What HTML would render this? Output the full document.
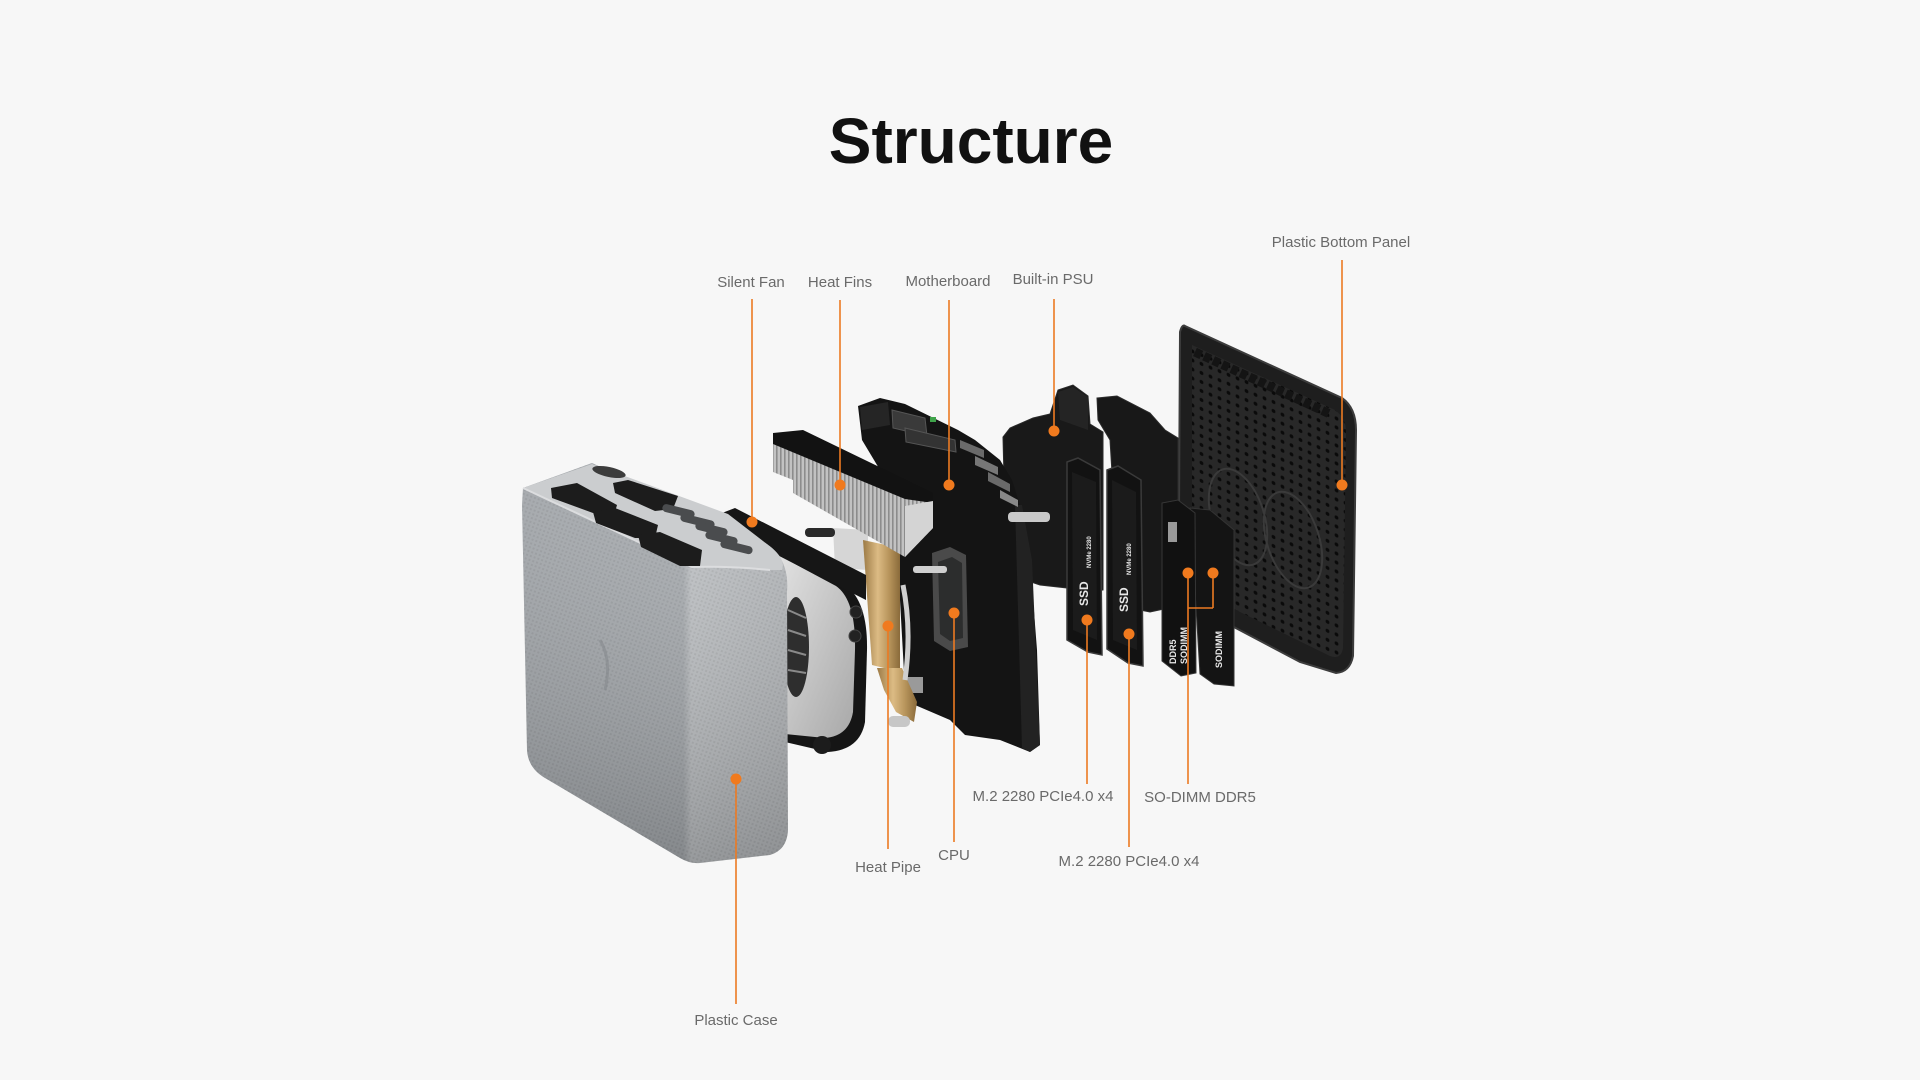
<!DOCTYPE html>
<html><head><meta charset="utf-8"><style>
html,body{margin:0;padding:0;background:#f7f7f7;}
svg{display:block}
.lbl{font-family:"Liberation Sans",sans-serif;font-size:15px;fill:#6a6a6a;text-anchor:middle}
.tiny{font-family:"Liberation Sans",sans-serif;font-weight:bold;fill:#e8e8e8}
</style></head><body>
<svg width="1920" height="1080" viewBox="0 0 1920 1080" xmlns="http://www.w3.org/2000/svg">
<defs>
 <pattern id="dots" width="9" height="9" patternUnits="userSpaceOnUse" patternTransform="skewY(22)"><rect width="9" height="9" fill="#282828"/><circle cx="4.5" cy="4.5" r="1.9" fill="#0a0a0a"/></pattern>
 <pattern id="fins" width="4" height="10" patternUnits="userSpaceOnUse"><rect width="4" height="10" fill="#c2c2c2"/><rect width="1.6" height="10" fill="#8c8c8c"/></pattern>
 <pattern id="tex" width="4" height="4" patternUnits="userSpaceOnUse" patternTransform="rotate(20)"><rect width="4" height="4" fill="none"/><rect width="2" height="2" fill="#000" opacity="0.07"/></pattern>
 <linearGradient id="front" gradientUnits="userSpaceOnUse" x1="523" y1="0" x2="790" y2="0">
  <stop offset="0" stop-color="#a0a4a8"/><stop offset="0.6" stop-color="#a6aaae"/><stop offset="0.63" stop-color="#bdc0c3"/><stop offset="1" stop-color="#b1b4b7"/>
 </linearGradient>
 <linearGradient id="shade" gradientUnits="userSpaceOnUse" x1="0" y1="500" x2="0" y2="865">
  <stop offset="0" stop-color="#fff" stop-opacity="0.08"/><stop offset="1" stop-color="#000" stop-opacity="0.2"/>
 </linearGradient>
 <linearGradient id="gold" x1="0" y1="0" x2="1" y2="0">
  <stop offset="0" stop-color="#9c7a45"/><stop offset="0.4" stop-color="#dcbb84"/><stop offset="0.7" stop-color="#b8955c"/><stop offset="1" stop-color="#8a6a3a"/>
 </linearGradient>
 <linearGradient id="fanG" x1="0" y1="0" x2="1" y2="1">
  <stop offset="0" stop-color="#e2e2e2"/><stop offset="1" stop-color="#a8a8a8"/>
 </linearGradient>
</defs>

<rect width="1920" height="1080" fill="#f7f7f7"/>

<text x="971" y="163" text-anchor="middle" font-family="'Liberation Sans',sans-serif" font-weight="bold" font-size="64" fill="#111">Structure</text>

<!-- Bottom panel -->
<path d="M1185,326 Q1182,324 1180,332 L1179,515 L1232,626 L1300,662 L1336,673 Q1350,672 1353,656 L1356,430 Q1356,408 1342,398 Z" fill="#1e1e1e" stroke="#3c3c3c" stroke-width="2"/>
<path d="M1192,345 L1335,410 Q1346,418 1346,432 L1343,648 Q1341,660 1330,656 L1240,612 L1192,585 Z" fill="url(#dots)"/>
<path d="M1195,352 L1330,414" stroke="#141414" stroke-width="9" stroke-dasharray="7 3"/>
<ellipse cx="1238" cy="517" rx="26" ry="50" fill="none" stroke="#3a3a3a" stroke-width="2" transform="rotate(-18 1238 517)"/>
<ellipse cx="1293" cy="540" rx="26" ry="50" fill="none" stroke="#3a3a3a" stroke-width="2" transform="rotate(-18 1293 540)"/>

<!-- Plate 2 -->
<path d="M1097,398 L1117,396 L1150,413 L1165,430 L1178,438 L1178,606 L1150,612 L1120,606 L1110,440 L1098,420 Z" fill="#181818" stroke="#2c2c2c"/>

<!-- RAM 2 -->
<path d="M1190,508 L1210,510 L1234,530 L1234,686 L1214,684 L1200,674 Z" fill="#141414" stroke="#333"/>
<text class="tiny" font-size="9" transform="translate(1222,668) rotate(-90)">SODIMM</text>
<!-- RAM 1 -->
<path d="M1162,503 L1178,500 L1195,513 L1196,673 L1181,676 L1162,661 Z" fill="#111" stroke="#363636"/>
<text class="tiny" font-size="9" transform="translate(1176,664) rotate(-90)">DDR5</text>
<text class="tiny" font-size="9" transform="translate(1187,664) rotate(-90)">SODIMM</text>
<rect x="1168" y="522" width="9" height="20" fill="#bdbdbd" opacity="0.8"/>

<!-- SSD 2 -->
<path d="M1107,470 L1118,466 L1141,480 L1143,666 L1128,663 L1107,649 Z" fill="#121212" stroke="#3a3a3a" stroke-width="1.5"/>
<path d="M1112,480 L1136,492 L1137,650 L1113,640 Z" fill="#1b1b1b"/>
<text class="tiny" font-size="12" transform="translate(1128,612) rotate(-90)">SSD</text>
<text class="tiny" font-size="6" transform="translate(1131,575) rotate(-90)">NVMe 2280</text>

<!-- PSU -->
<path d="M1003,437 L1010,428 L1033,418 L1050,414 L1058,390 L1073,385 L1088,396 L1090,424 L1103,432 L1103,590 L1090,592 L1067,588 L1040,585 L1010,575 L1005,520 Z" fill="#191919" stroke="#2a2a2a"/>
<path d="M1058,392 L1073,387 L1088,397 L1088,430 L1060,420 Z" fill="#242424"/>

<!-- SSD 1 -->
<path d="M1067,462 L1078,458 L1100,470 L1102,655 L1088,652 L1067,640 Z" fill="#121212" stroke="#3a3a3a" stroke-width="1.5"/>
<path d="M1072,472 L1096,482 L1097,640 L1073,630 Z" fill="#1b1b1b"/>
<text class="tiny" font-size="12" transform="translate(1088,606) rotate(-90)">SSD</text>
<text class="tiny" font-size="6" transform="translate(1091,568) rotate(-90)">NVMe 2280</text>

<!-- Motherboard -->
<path d="M858,406 L880,398 L905,404 L958,430 L975,440 L1000,460 L1012,480 L1020,505 L1030,560 L1037,650 L1040,745 L1030,752 L1000,740 L965,735 L950,720 L915,705 L905,690 L900,600 L897,520 L880,470 L862,440 Z" fill="#141414"/>
<path d="M1015,505 L1022,505 L1032,560 L1040,745 L1030,752 L1022,748 Z" fill="#222"/>
<path d="M860,407 L888,402 L890,425 L862,430 Z" fill="#252525"/>
<path d="M892,410 L925,418 L927,436 L893,428 Z" fill="#3a3a3a" stroke="#555"/>
<path d="M905,428 L955,440 L956,452 L906,442 Z" fill="#333" stroke="#555"/>
<rect x="930" y="417" width="6" height="5" fill="#3fa34a"/>
<path d="M960,440 L984,450 L984,458 L960,448 Z" fill="#6a6a6a"/>
<path d="M975,456 L998,467 L998,475 L975,465 Z" fill="#777"/>
<path d="M988,472 L1010,484 L1010,492 L988,481 Z" fill="#6a6a6a"/>
<path d="M1000,490 L1018,500 L1018,507 L1000,498 Z" fill="#888"/>
<rect x="1008" y="512" width="42" height="10" rx="4" fill="#c9c9c9"/>
<rect x="903" y="677" width="20" height="16" fill="#9a9a9a"/>
<!-- CPU -->
<path d="M932,553 L950,547 L966,555 L968,647 L950,651 L934,641 Z" fill="#4a4a4a"/>
<path d="M938,562 L952,557 L962,563 L963,638 L950,641 L940,634 Z" fill="#2c2d2d"/>
<rect x="913" y="566" width="34" height="7" rx="3" fill="#cfcfcf"/>

<!-- Heat pipe & bracket -->
<path d="M833,528 L868,530 L868,570 L835,568 Z" fill="#d6d6d6"/>
<rect x="805" y="528" width="30" height="9" rx="4" fill="#2a2a2a"/>
<path d="M863,540 L900,548 L900,672 L872,665 Z" fill="url(#gold)"/>
<path d="M877,668 L902,668 L917,702 L914,722 L896,712 L884,690 Z" fill="url(#gold)"/>
<rect x="888" y="716" width="22" height="11" rx="5" fill="#c7c7c7"/>
<path d="M903,585 Q912,630 905,680" fill="none" stroke="#cfcfcf" stroke-width="5"/>

<!-- Heat fins -->
<path d="M773,436 L803,431 L933,494 L933,528 L905,557 L793,493 L793,480 L773,472 Z" fill="url(#fins)"/>
<path d="M773,433 L803,430 L933,493 L933,503 L905,499 L773,444 Z" fill="#121212"/>
<path d="M905,506 L933,501 L933,528 L905,557 Z" fill="#d4d4d4"/>

<!-- Fan -->
<path d="M778,552 L840,582 Q868,596 867,650 L865,722 Q860,750 828,752 L785,742 Z" fill="#151515"/>
<path d="M778,555 L836,586 Q856,600 855,650 L853,712 Q849,736 825,738 L785,734 Z" fill="url(#fanG)"/>
<ellipse cx="796" cy="647" rx="13" ry="50" fill="#2e2e2e"/>
<path d="M788,610 L806,618 M788,630 L806,636 M788,650 L806,655 M788,670 L806,673" stroke="#8a8a8a" stroke-width="2"/>
<path d="M722,513 L735,508 L866,575 L866,600 L728,530 Z" fill="#161616"/>
<circle cx="822" cy="745" r="9" fill="#1c1c1c"/>
<circle cx="856" cy="612" r="6" fill="#222" stroke="#444"/>
<circle cx="855" cy="636" r="6" fill="#222" stroke="#444"/>

<!-- Case -->
<path d="M523,488 L592,463 L760,540 Q790,555 787,592 L788,830 Q787,850 770,855 L700,863 Q690,864 680,858 L545,778 Q528,768 527,750 L522,505 Z" fill="url(#front)"/>
<path d="M523,488 L592,463 L760,540 Q790,555 787,592 L788,830 Q787,850 770,855 L700,863 Q690,864 680,858 L545,778 Q528,768 527,750 L522,505 Z" fill="url(#tex)"/>
<path d="M523,488 L592,463 L760,540 Q790,555 787,592 L788,830 Q787,850 770,855 L700,863 Q690,864 680,858 L545,778 Q528,768 527,750 L522,505 Z" fill="url(#shade)"/>
<path d="M523,488 L592,464 L728,514 L772,548 Q786,560 782,570 L760,570 Q730,566 692,567 Z" fill="#cbcdcf"/>
<path d="M523,488 L692,567 Q730,566 770,570" fill="none" stroke="#dcdddf" stroke-width="2"/>
<!-- ports -->
<ellipse cx="609" cy="472" rx="17" ry="5" fill="#3c3c3c" transform="rotate(12 609 472)"/>
<g fill="#1c1c1c">
<path d="M551,488 L577,483 L617,505 L615,512 L593,513 L552,498 Z"/>
<path d="M613,483 L628,480 L678,496 L673,509 L655,511 L615,493 Z"/>
<path d="M593,512 L615,508 L658,525 L655,538 L635,538 L596,523 Z"/>
<path d="M638,535 L660,532 L702,550 L700,566 L680,566 L641,547 Z"/>
</g>
<g fill="#4a4c4e">
<rect x="662" y="507" width="33" height="8" rx="4" transform="rotate(14 678 511)"/>
<rect x="680" y="517" width="35" height="8" rx="4" transform="rotate(14 697 521)"/>
<rect x="695" y="525" width="33" height="8" rx="4" transform="rotate(14 711 529)"/>
<rect x="705" y="534" width="33" height="8" rx="4" transform="rotate(14 721 538)"/>
<rect x="720" y="543" width="33" height="8" rx="4" transform="rotate(14 736 547)"/>
</g>
<path d="M600,640 Q612,660 605,690" fill="none" stroke="#7f8488" stroke-width="3" opacity="0.5"/>

<!-- Leader lines -->
<g stroke="#ec7a22" stroke-width="1.6" fill="none">
 <line x1="752" y1="299" x2="752" y2="522"/>
 <line x1="840" y1="300" x2="840" y2="485"/>
 <line x1="949" y1="300" x2="949" y2="485"/>
 <line x1="1054" y1="299" x2="1054" y2="431"/>
 <line x1="1342" y1="260" x2="1342" y2="485"/>
 <line x1="1087" y1="620" x2="1087" y2="784"/>
 <line x1="1188" y1="573" x2="1188" y2="784"/>
 <line x1="1213" y1="573" x2="1213" y2="608"/>
 <line x1="1188" y1="608" x2="1213" y2="608"/>
 <line x1="888" y1="626" x2="888" y2="849"/>
 <line x1="954" y1="613" x2="954" y2="842"/>
 <line x1="1129" y1="634" x2="1129" y2="847"/>
 <line x1="736" y1="779" x2="736" y2="1004"/>
</g>
<g fill="#f07a1e">
 <circle cx="752" cy="522" r="5.5"/>
 <circle cx="840" cy="485" r="5.5"/>
 <circle cx="949" cy="485" r="5.5"/>
 <circle cx="1054" cy="431" r="5.5"/>
 <circle cx="1342" cy="485" r="5.5"/>
 <circle cx="1087" cy="620" r="5.5"/>
 <circle cx="1188" cy="573" r="5.5"/>
 <circle cx="1213" cy="573" r="5.5"/>
 <circle cx="888" cy="626" r="5.5"/>
 <circle cx="954" cy="613" r="5.5"/>
 <circle cx="1129" cy="634" r="5.5"/>
 <circle cx="736" cy="779" r="5.5"/>
</g>

<!-- Labels -->
<text class="lbl" x="751" y="287">Silent Fan</text>
<text class="lbl" x="840" y="287">Heat Fins</text>
<text class="lbl" x="948" y="286">Motherboard</text>
<text class="lbl" x="1053" y="284">Built-in PSU</text>
<text class="lbl" x="1341" y="247">Plastic Bottom Panel</text>
<text class="lbl" x="1043" y="801">M.2 2280 PCIe4.0 x4</text>
<text class="lbl" x="1200" y="802">SO-DIMM DDR5</text>
<text class="lbl" x="888" y="872">Heat Pipe</text>
<text class="lbl" x="954" y="860">CPU</text>
<text class="lbl" x="1129" y="866">M.2 2280 PCIe4.0 x4</text>
<text class="lbl" x="736" y="1025">Plastic Case</text>
</svg>
</body></html>
